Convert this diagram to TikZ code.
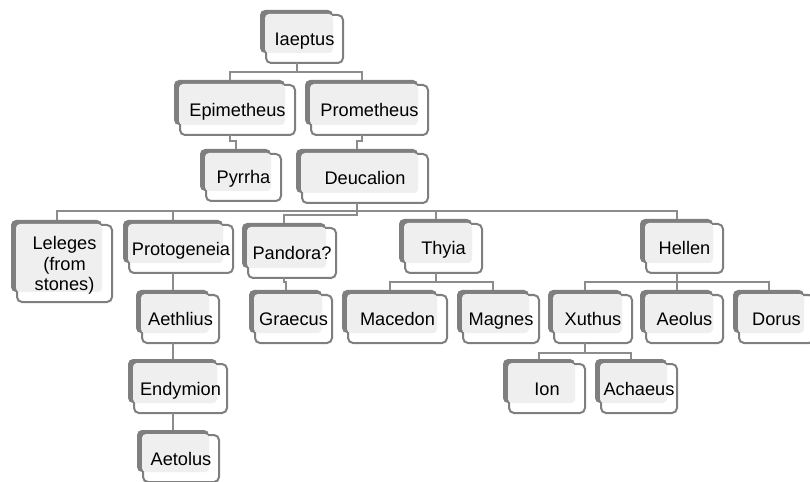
\documentclass[tikz,border=0pt]{standalone}
\usepackage{fontspec}
\setmainfont{Liberation Sans}
\definecolor{boxgray}{HTML}{7F7F7F}
\definecolor{panel}{HTML}{EFEFEF}
\definecolor{linkgray}{HTML}{8C8C8C}

\tikzset{
  famfont/.style={inner sep=0pt, align=center, font=\fontsize{18.2bp}{20.5bp}\selectfont},
  famtext/.style={famfont, anchor=base, yshift=-6.5bp},
  multiline/.style={famfont, anchor=center, yshift=-2bp},
  famlink/.style={draw=linkgray, line width=2bp},
  backplate/.style={fill=boxgray, rounded corners=5bp},
  frontframe/.style={draw=boxgray, line width=2bp, fill=white, rounded corners=5bp},
  textpanel/.style={fill=panel, rounded corners=4bp}
}

% [#1 text style], #2 name, #3-#6 corners of the dark back plate (x0,y0,x1,y1), #7 label
\newcommand\famnode[7][famtext]{%
  \path[backplate] (#3,#4) rectangle (#5,#6);
  \path[frontframe] (#3+6,#4+5) rectangle (#5+10,#6+10);
  \path[textpanel] (#3+5,#4+4) rectangle (#5,#6);
  \node[#1] (#2) at ({(#3+#5)/2+8},{(#4+#6)/2+7.5}) {#7};
  \coordinate (#2-t) at ({(#3+#5)/2},#4);
  \coordinate (#2-b) at ({(#3+#5)/2},#6+10);
}

\begin{document}
\begin{tikzpicture}[x=1bp,y=-1bp]
\useasboundingbox (0,0) rectangle (810,482);

% family members
\famnode{iaeptus}{260}{10}{333}{53}{Iaeptus}
\famnode{epimetheus}{174}{80}{285}{125}{Epimetheus}
\famnode{prometheus}{305}{80}{418}{125}{Prometheus}
\famnode{pyrrha}{200}{149}{271}{191}{Pyrrha}
\famnode{deucalion}{296}{149}{418}{193}{Deucalion}
\famnode[multiline]{leleges}{11}{220}{102}{292}{Leleges\\(from\\stones)}
\famnode{protogeneia}{123}{220}{223}{263}{Protogeneia}
\famnode{pandora}{242}{223}{326}{268}{Pandora?}
\famnode{thyia}{399}{219}{472}{263}{Thyia}
\famnode{hellen}{640}{219}{713}{263}{Hellen}
\famnode{aethlius}{136}{290}{209}{333}{Aethlius}
\famnode{graecus}{249}{290}{322}{333}{Graecus}
\famnode{macedon}{342}{290}{437}{333}{Macedon}
\famnode{magnes}{457}{290}{529}{333}{Magnes}
\famnode{xuthus}{548}{290}{622}{333}{Xuthus}
\famnode{aeolus}{640}{290}{713}{333}{Aeolus}
\famnode{dorus}{733}{290}{804}{333}{Dorus}
\famnode{endymion}{128}{359}{217}{403}{Endymion}
\famnode{ion}{503}{359}{575}{403}{Ion}
\famnode{achaeus}{595}{359}{667}{403}{Achaeus}
\famnode{aetolus}{137}{430}{209}{472}{Aetolus}

% lines of descent
\foreach \c in {epimetheus,prometheus}
  \draw[famlink] (iaeptus-b) -- ++(0,9) -| (\c-t);
\draw[famlink] (epimetheus-b) -- ++(0,6) -| (pyrrha-t);
\draw[famlink] (prometheus-b) -- ++(0,6) -| (deucalion-t);
\foreach \c in {leleges,protogeneia,thyia,hellen}
  \draw[famlink] (deucalion-b) -- ++(0,8) -| (\c-t);
\draw[famlink] (deucalion-b) -- ++(0,12) -| (pandora-t);
\draw[famlink] (protogeneia-b) -- ++(0,8) -| (aethlius-t);
\draw[famlink] (aethlius-b) -- ++(0,8) -| (endymion-t);
\draw[famlink] (endymion-b) -- ++(0,8) -| (aetolus-t);
\draw[famlink] (pandora-b) -- ++(0,4) -| (graecus-t);
\foreach \c in {macedon,magnes}
  \draw[famlink] (thyia-b) -- ++(0,9) -| (\c-t);
\foreach \c in {xuthus,aeolus,dorus}
  \draw[famlink] (hellen-b) -- ++(0,9) -| (\c-t);
\foreach \c in {ion,achaeus}
  \draw[famlink] (xuthus-b) -- ++(0,10) -| (\c-t);
\end{tikzpicture}
\end{document}
